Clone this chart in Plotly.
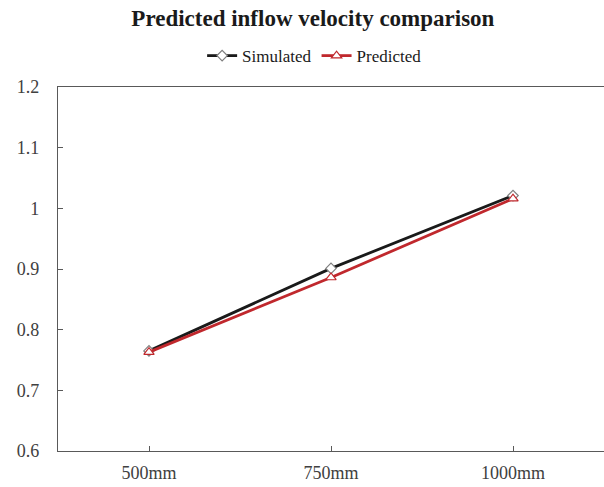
import plotly.graph_objects as go

categories = ["500mm", "750mm", "1000mm"]
simulated = [0.765, 0.901, 1.021]
predicted = [0.763, 0.886, 1.016]
y_ticks = [0.6, 0.7, 0.8, 0.9, 1.0, 1.1, 1.2]
y_tick_labels = ["0.6", "0.7", "0.8", "0.9", "1", "1.1", "1.2"]

font_family = "Liberation Serif, Times New Roman, serif"

fig = go.Figure()
fig.add_trace(go.Scatter(
    x=categories, y=simulated, name="Simulated", mode="lines+markers",
    line=dict(color="#1a1a1a", width=2.8),
    marker=dict(symbol="diamond", size=8, color="white",
                line=dict(color="#7f7f7f", width=1.2)),
))
fig.add_trace(go.Scatter(
    x=categories, y=predicted, name="Predicted", mode="lines+markers",
    line=dict(color="#c0282d", width=2.8),
    marker=dict(symbol="triangle-up", size=9, color="white",
                line=dict(color="#c0282d", width=1.2)),
))

fig.update_layout(
    width=604, height=487,
    margin=dict(l=58, r=0, t=87, b=36),
    paper_bgcolor="white", plot_bgcolor="white",
    font=dict(family=font_family, size=18, color="#404040"),
    title=dict(text="<b>Predicted inflow velocity comparison</b>",
               x=0.518, xanchor="center", y=0.963, yanchor="middle",
               font=dict(family=font_family, size=23, color="#1a1a1a")),
    legend=dict(orientation="h", x=0.47, xanchor="center", y=1.085, yanchor="middle",
                font=dict(family=font_family, size=17, color="#1a1a1a"),
                itemwidth=30, bgcolor="rgba(0,0,0,0)"),
    showlegend=True,
)
fig.update_xaxes(
    type="category", range=[-0.5, 2.5],
    showline=True, linecolor="#595959", linewidth=1.2, mirror=True,
    ticks="inside", ticklen=5, tickcolor="#595959",
    showgrid=False, zeroline=False,
    tickfont=dict(family=font_family, size=18, color="#404040"),
    ticklabelstandoff=5,
)
fig.update_yaxes(
    range=[0.6, 1.2], tickvals=y_ticks, ticktext=y_tick_labels,
    showline=True, linecolor="#595959", linewidth=1.2, mirror=True,
    ticks="inside", ticklen=5, tickcolor="#595959",
    showgrid=False, zeroline=False,
    tickfont=dict(family=font_family, size=18, color="#404040"),
    ticklabelstandoff=14,
)

fig.write_html("out.html")
